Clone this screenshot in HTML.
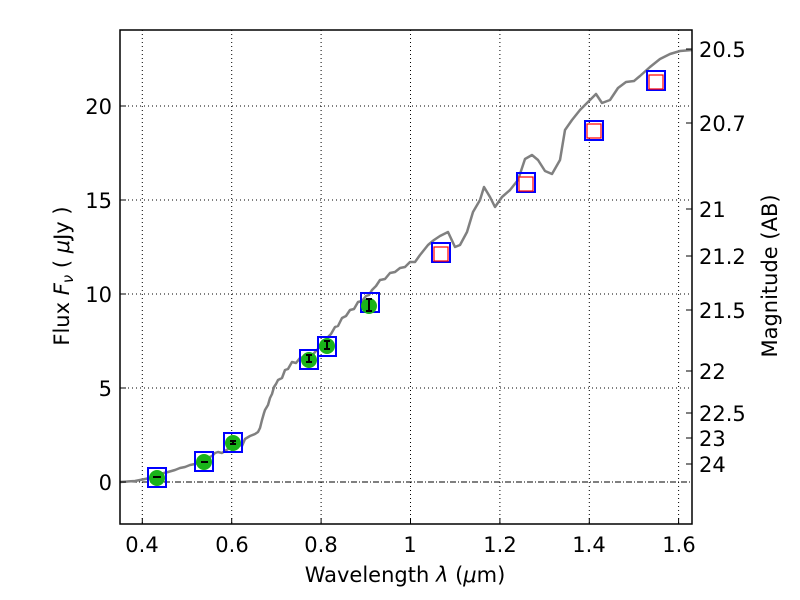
<!DOCTYPE html>
<html><head><style>body{margin:0;background:#fff}svg{display:block}</style></head><body>
<svg width="800" height="600" xmlns="http://www.w3.org/2000/svg" font-family="DejaVu Sans, Liberation Sans, sans-serif">
<rect width="800" height="600" fill="#fff"/>
<g stroke="#000" stroke-width="1" stroke-dasharray="1,3" fill="none">
<line x1="142.3" y1="30" x2="142.3" y2="524"/><line x1="231.7" y1="30" x2="231.7" y2="524"/>
<line x1="321.1" y1="30" x2="321.1" y2="524"/><line x1="410.5" y1="30" x2="410.5" y2="524"/>
<line x1="499.9" y1="30" x2="499.9" y2="524"/><line x1="589.3" y1="30" x2="589.3" y2="524"/>
<line x1="678.6" y1="30" x2="678.6" y2="524"/>
<line x1="120" y1="106" x2="692" y2="106"/><line x1="120" y1="200" x2="692" y2="200"/>
<line x1="120" y1="294" x2="692" y2="294"/><line x1="120" y1="388" x2="692" y2="388"/>
</g>
<line x1="120" y1="482" x2="692" y2="482" stroke="#000" stroke-width="1" stroke-dasharray="6,2,1,2"/>
<polyline fill="none" stroke="#808080" stroke-width="2.5" stroke-linejoin="round" points="120,482 135,481 150,478 160,474 168,472 175,470 180,468 185,467 190,465 195,464 200,461 205,459 212,456 215,453 218,452 222,453 225,451 228,449 232,447 235,448 238,444 242,446 245,439 250,436 255,434 258,432 260,428 262,420 264,413 265,410 268,405 270,398 272,394 274,387 276,384 278,380 282,378 285,370 288,369 292,362 296,363 300,358 304,357 308,355 312,356 315,352 318,349 320,345 324,343 328,337 331,334 335,327 338,326 342,318 346,316 350,310 354,309 358,302 362,301 366,296 369,295 372,290 376,286 380,280 385,279 390,273 395,272 400,268 405,267 410,262 415,262 420,255 424,250 428,245 434,240 440,236 448,232 455,247 460,245 467,232 473,212 480,200 484,187 490,197 495,207 502,197 510,190 518,180 525,159 532,155 538,160 545,171 552,174 560,160 565,130 572,120 580,110 590,100 596,94 602,103 610,100 618,88 626,82 634,81 640,76 650,67 660,59 670,54 680,51 692,50"/>
<g fill="none" stroke="#0000ff" stroke-width="2">
<rect x="148" y="468" width="18" height="19"/><rect x="195" y="452" width="18" height="19"/>
<rect x="224" y="433" width="18" height="19"/><rect x="300" y="350" width="18" height="19"/>
<rect x="318" y="337" width="18" height="19"/><rect x="361" y="293" width="18" height="19"/>
<rect x="432" y="243" width="18" height="19"/><rect x="517" y="173" width="18" height="19"/>
<rect x="585" y="121" width="18" height="19"/><rect x="647" y="71" width="18" height="19"/>
</g>
<g fill="#fff" stroke="#ff0000" stroke-width="1.2">
<rect x="434" y="247" width="14" height="14"/><rect x="519" y="177" width="14" height="14"/>
<rect x="587" y="124" width="14" height="14"/><rect x="649" y="75" width="14" height="14"/>
</g>
<g fill="#1ab31a">
<circle cx="157" cy="478" r="8"/><circle cx="204" cy="462" r="8"/><circle cx="233" cy="443" r="8"/>
<circle cx="309" cy="360" r="8"/><circle cx="327" cy="346" r="8"/><circle cx="369" cy="306" r="8"/>
</g>
<g stroke="#000" stroke-width="2">
<line x1="153" y1="477" x2="161" y2="477"/>
<line x1="201" y1="462" x2="208" y2="462"/>
<line x1="230" y1="441" x2="236" y2="441"/><line x1="230" y1="444" x2="236" y2="444"/><line x1="233" y1="441" x2="233" y2="444"/>
<line x1="306" y1="355" x2="312" y2="355"/><line x1="306" y1="362" x2="312" y2="362"/><line x1="309" y1="355" x2="309" y2="362"/>
<line x1="324" y1="341" x2="330" y2="341"/><line x1="324" y1="349" x2="330" y2="349"/><line x1="327" y1="341" x2="327" y2="349"/>
<line x1="366" y1="299" x2="372" y2="299"/><line x1="366" y1="311" x2="372" y2="311"/><line x1="369" y1="299" x2="369" y2="311"/>
</g>
<rect x="120" y="30" width="572" height="494" fill="none" stroke="#000" stroke-width="1.5"/>
<g stroke="#000" stroke-width="1">
<line x1="142.3" y1="524" x2="142.3" y2="518"/><line x1="231.7" y1="524" x2="231.7" y2="518"/>
<line x1="321.1" y1="524" x2="321.1" y2="518"/><line x1="410.5" y1="524" x2="410.5" y2="518"/>
<line x1="499.9" y1="524" x2="499.9" y2="518"/><line x1="589.3" y1="524" x2="589.3" y2="518"/>
<line x1="678.6" y1="524" x2="678.6" y2="518"/>
<line x1="120" y1="106" x2="126" y2="106"/><line x1="120" y1="200" x2="126" y2="200"/>
<line x1="120" y1="294" x2="126" y2="294"/><line x1="120" y1="388" x2="126" y2="388"/><line x1="120" y1="482" x2="126" y2="482"/>
<line x1="692" y1="49" x2="686" y2="49"/><line x1="692" y1="123" x2="686" y2="123"/><line x1="692" y1="209" x2="686" y2="209"/>
<line x1="692" y1="256" x2="686" y2="256"/><line x1="692" y1="310" x2="686" y2="310"/><line x1="692" y1="371" x2="686" y2="371"/>
<line x1="692" y1="413" x2="686" y2="413"/><line x1="692" y1="438" x2="686" y2="438"/><line x1="692" y1="464" x2="686" y2="464"/>
</g>
<g font-size="21" fill="#000" text-anchor="middle">
<text x="142" y="552">0.4</text><text x="232" y="552">0.6</text><text x="321" y="552">0.8</text>
<text x="410" y="552">1</text><text x="500" y="552">1.2</text><text x="589" y="552">1.4</text><text x="679" y="552">1.6</text>
<text x="405" y="582">Wavelength  <tspan font-style="italic">λ</tspan> (<tspan font-style="italic">μ</tspan>m)</text>
</g>
<g font-size="21" fill="#000" text-anchor="end">
<text x="112" y="114">20</text><text x="112" y="208">15</text><text x="112" y="302">10</text>
<text x="112" y="396">5</text><text x="112" y="490">0</text>
</g>
<g font-size="21" fill="#000">
<text x="699" y="57">20.5</text><text x="699" y="131">20.7</text><text x="699" y="217">21</text>
<text x="699" y="264">21.2</text><text x="699" y="318">21.5</text><text x="699" y="379">22</text>
<text x="699" y="421">22.5</text><text x="699" y="446">23</text><text x="699" y="472">24</text>
</g>
<text transform="translate(69,276) rotate(-90)" font-size="21" text-anchor="middle">Flux  <tspan font-style="italic">F</tspan><tspan font-style="italic" font-size="15" dy="4">ν</tspan><tspan dy="-4">  (  </tspan><tspan font-style="italic">μ</tspan>Jy )</text>
<text transform="translate(777,276) rotate(-90)" font-size="21" text-anchor="middle">Magnitude (AB)</text>
</svg>
</body></html>
